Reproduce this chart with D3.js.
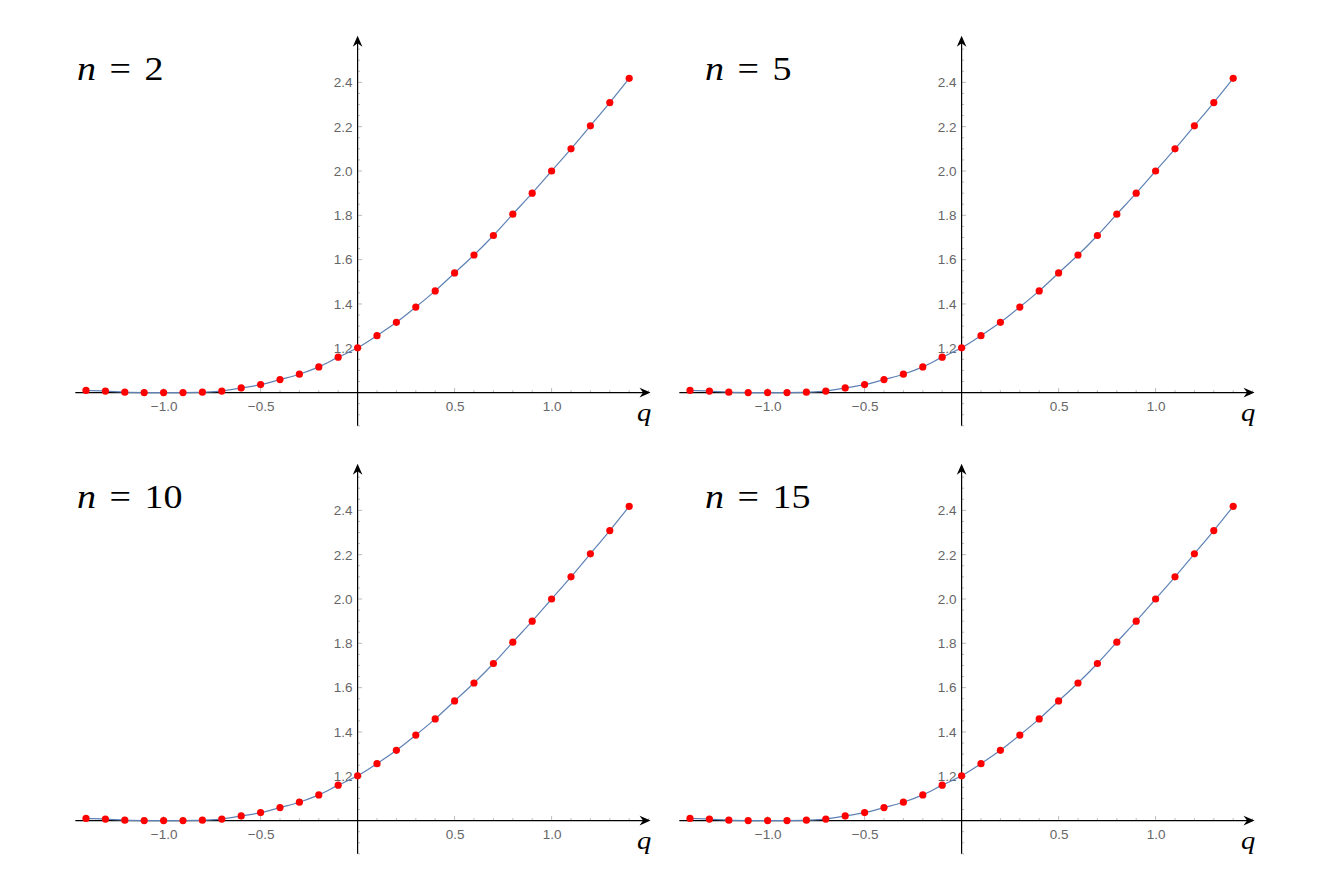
<!DOCTYPE html>
<html><head><meta charset="utf-8">
<script src="https://cdn.jsdelivr.net/npm/d3@7"></script>
<style>body{margin:0;background:#fff}</style>
</head><body><svg id="c" width="1337" height="882"></svg>
<script>
const nValues = [2, 5, 10, 15];
const qValues = [-1.4,-1.3,-1.2,-1.1,-1.0,-0.9,-0.8,-0.7,-0.6,-0.5,-0.4,-0.3,-0.2,-0.1,0,
                 0.1,0.2,0.3,0.4,0.5,0.6,0.7,0.8,0.9,1.0,1.1,1.2,1.3,1.4];
const fValues = [1.010,1.007,1.002,1.000,1.000,1.000,1.002,1.007,1.021,1.036,1.059,1.083,1.116,1.160,1.202,
                 1.257,1.317,1.386,1.459,1.540,1.621,1.709,1.805,1.900,2.000,2.100,2.204,2.309,2.418];
const xTicksMajor = [-1.0, -0.5, 0.5, 1.0];
const xTicksMinor = [-1.4,-1.3,-1.2,-1.1,-0.9,-0.8,-0.7,-0.6,-0.4,-0.3,-0.2,-0.1,0.1,0.2,0.3,0.4,0.6,0.7,0.8,0.9,1.1,1.2,1.3,1.4,1.5];
const yTicksMajor = [1.2, 1.4, 1.6, 1.8, 2.0, 2.2, 2.4];
const yTicksMinor = [0.85,0.9,0.95,1.05,1.1,1.15,1.25,1.3,1.35,1.45,1.5,1.55,1.65,1.7,1.75,1.85,1.9,1.95,2.05,2.1,2.15,2.25,2.3,2.35,2.45,2.5,2.55];
const xLabel = "q";

const svg = d3.select("#c");
const layout = [
  {dx: 0, dy: 0, tx: 77},
  {dx: 604, dy: 0, tx: 705},
  {dx: 0, dy: 428, tx: 77},
  {dx: 604, dy: 428, tx: 705}
];
const data = qValues.map((q, i) => ({q, f: fValues[i]}));

nValues.forEach((n, pi) => {
  const L = layout[pi];
  const g = svg.append("g").attr("transform", `translate(${L.dx},${L.dy})`);
  const x = d3.scaleLinear().domain([-1, 1]).range([357.6 - 194, 357.6 + 194]);
  const y = d3.scaleLinear().domain([1, 2]).range([392.6, 171]);

  const tickCol = "#aaa";
  g.selectAll(".xmin").data(xTicksMinor).join("line")
    .attr("x1", d => x(d)).attr("x2", d => x(d))
    .attr("y1", y(1)).attr("y2", y(1) - 2.5)
    .attr("stroke", tickCol).attr("stroke-width", 0.8);
  g.selectAll(".xmaj").data(xTicksMajor).join("line")
    .attr("x1", d => x(d)).attr("x2", d => x(d))
    .attr("y1", y(1)).attr("y2", y(1) - 4.5)
    .attr("stroke", tickCol).attr("stroke-width", 0.8);
  g.selectAll(".ymin").data(yTicksMinor).join("line")
    .attr("y1", d => y(d)).attr("y2", d => y(d))
    .attr("x1", x(0)).attr("x2", x(0) + 2.5)
    .attr("stroke", tickCol).attr("stroke-width", 0.8);
  g.selectAll(".ymaj").data(yTicksMajor).join("line")
    .attr("y1", d => y(d)).attr("y2", d => y(d))
    .attr("x1", x(0)).attr("x2", x(0) + 4.5)
    .attr("stroke", tickCol).attr("stroke-width", 0.8);

  const xa = g.append("g").attr("transform", `translate(0,${y(1)})`)
    .call(d3.axisBottom(x).tickValues(xTicksMajor).tickSize(0).tickPadding(9).tickFormat(d3.format(".1f")));
  const ya = g.append("g").attr("transform", `translate(${x(0)},0)`)
    .call(d3.axisLeft(y).tickValues(yTicksMajor).tickSize(0).tickPadding(5).tickFormat(d3.format(".1f")));
  [xa, ya].forEach(a => {
    a.select(".domain").remove();
    a.selectAll("text").attr("fill", "#666").style("font-family", "'Liberation Sans', Arial, sans-serif").style("font-size", "13.5px");
  });

  const xEnd = x(1.51), yTop = y(2.61);
  g.append("line").attr("x1", x(-1.455)).attr("x2", xEnd - 3).attr("y1", y(1)).attr("y2", y(1))
    .attr("stroke", "#000").attr("stroke-width", 1.2);
  g.append("line").attr("x1", x(0)).attr("x2", x(0)).attr("y1", y(0.85)).attr("y2", yTop + 3)
    .attr("stroke", "#000").attr("stroke-width", 1.2);
  g.append("path").attr("d", `M${xEnd},${y(1)} L${xEnd - 11},${y(1) - 4.8} L${xEnd - 7.5},${y(1)} L${xEnd - 11},${y(1) + 4.8} Z`).attr("fill", "#000");
  g.append("path").attr("d", `M${x(0)},${yTop} L${x(0) - 4.8},${yTop + 11} L${x(0)},${yTop + 7.5} L${x(0) + 4.8},${yTop + 11} Z`).attr("fill", "#000");

  g.append("path").datum(data)
    .attr("d", d3.line().x(d => x(d.q)).y(d => y(d.f)).curve(d3.curveCatmullRom.alpha(0.5)))
    .attr("fill", "none").attr("stroke", "#5E81B5").attr("stroke-width", 1.2);
  g.selectAll(".pt").data(data).join("circle")
    .attr("cx", d => x(d.q)).attr("cy", d => y(d.f)).attr("r", 3.6).attr("fill", "#ff0000");

  g.append("text").attr("transform", "translate(637,421) scale(1.1,1)").text(xLabel)
    .style("font-family", "'Liberation Serif', 'Times New Roman', serif").style("font-style", "italic").style("font-size", "26px");

  const t = g.append("text").attr("transform", `translate(${L.tx - L.dx},80) scale(1.12,1)`)
    .style("font-family", "'Liberation Serif', 'Times New Roman', serif").style("font-size", "34px");
  t.append("tspan").style("font-style", "italic").text("n");
  t.append("tspan").attr("dx", 12).text("=");
  t.append("tspan").attr("dx", 12).text(String(n));
});
</script>
</body></html>
